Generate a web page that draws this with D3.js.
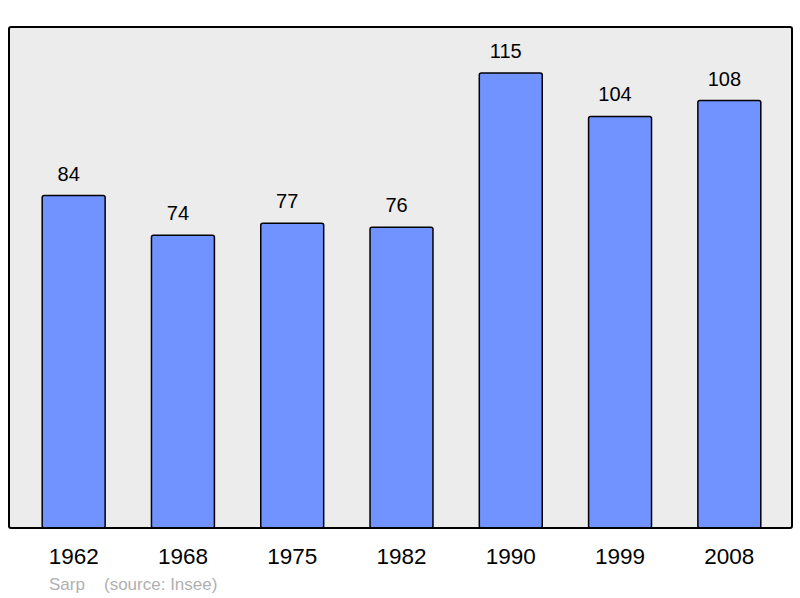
<!DOCTYPE html>
<html>
<head>
<meta charset="utf-8">
<script src="https://cdn.jsdelivr.net/npm/d3@7"></script>
<style>
  body { margin: 0; background: #fff; }
  text { font-family: "Liberation Sans", Arial, sans-serif; }
</style>
</head>
<body>
<svg id="chart" width="800" height="598"></svg>
<script>
// Population de Sarp
const annees = ["1962", "1968", "1975", "1982", "1990", "1999", "2008"];
const habitants = [84, 74, 77, 76, 115, 104, 108];
const source = ["Sarp", "(source: Insee)"];

const svg = d3.select("#chart");

const cadre = { left: 9, top: 27, right: 792, bottom: 528 };

const x = d3.scaleBand()
    .domain(annees)
    .range([cadre.left + 1.5, cadre.right + 0.5])
    .paddingInner(0.424)
    .paddingOuter(0.29);

const y = d3.scaleLinear()
    .domain([0, 126.6])
    .range([cadre.bottom, cadre.top]);

// fond
svg.append("rect")
    .attr("x", cadre.left)
    .attr("y", cadre.top)
    .attr("width", cadre.right - cadre.left)
    .attr("height", cadre.bottom - cadre.top)
    .attr("rx", 2)
    .style("fill", "#ececec");

// barres
svg.selectAll("rect.barre")
    .data(annees)
    .enter()
    .append("rect")
    .attr("class", "barre")
    .attr("x", (d) => x(d))
    .attr("y", (d, i) => y(habitants[i]))
    .attr("width", x.bandwidth())
    .attr("height", (d, i) => y(0) - y(habitants[i]))
    .attr("rx", 2)
    .style("fill", "#7093ff")
    .style("stroke", "#000")
    .style("stroke-width", 1.5);

// valeurs (un peu décalées à gauche comme l'original)
svg.selectAll("text.valeur")
    .data(annees)
    .enter()
    .append("text")
    .attr("class", "valeur")
    .attr("x", (d) => x(d) + x.bandwidth() / 2 - 5)
    .attr("y", (d, i) => y(habitants[i]) - 15)
    .attr("text-anchor", "middle")
    .style("font-size", "20px")
    .style("fill", "#000")
    .text((d, i) => habitants[i]);

// cadre par-dessus
svg.append("rect")
    .attr("x", cadre.left)
    .attr("y", cadre.top)
    .attr("width", cadre.right - cadre.left)
    .attr("height", cadre.bottom - cadre.top)
    .attr("rx", 2)
    .style("fill", "none")
    .style("stroke", "#000")
    .style("stroke-width", 2);

// axe des années
const axe = svg.append("g")
    .attr("transform", "translate(0," + cadre.bottom + ")")
    .call(d3.axisBottom(x).tickSize(0).tickPadding(20));
axe.select(".domain").remove();
axe.selectAll("text")
    .style("font-family", "'Liberation Sans', Arial, sans-serif")
    .style("font-size", "22.5px")
    .style("fill", "#000");

// source
svg.append("text")
    .attr("x", 49)
    .attr("y", 590)
    .style("font-size", "17px")
    .style("fill", "#b0b0b0")
    .text(source[0]);
svg.append("text")
    .attr("x", 104)
    .attr("y", 590)
    .style("font-size", "17px")
    .style("fill", "#b0b0b0")
    .text(source[1]);
</script>
</body>
</html>
